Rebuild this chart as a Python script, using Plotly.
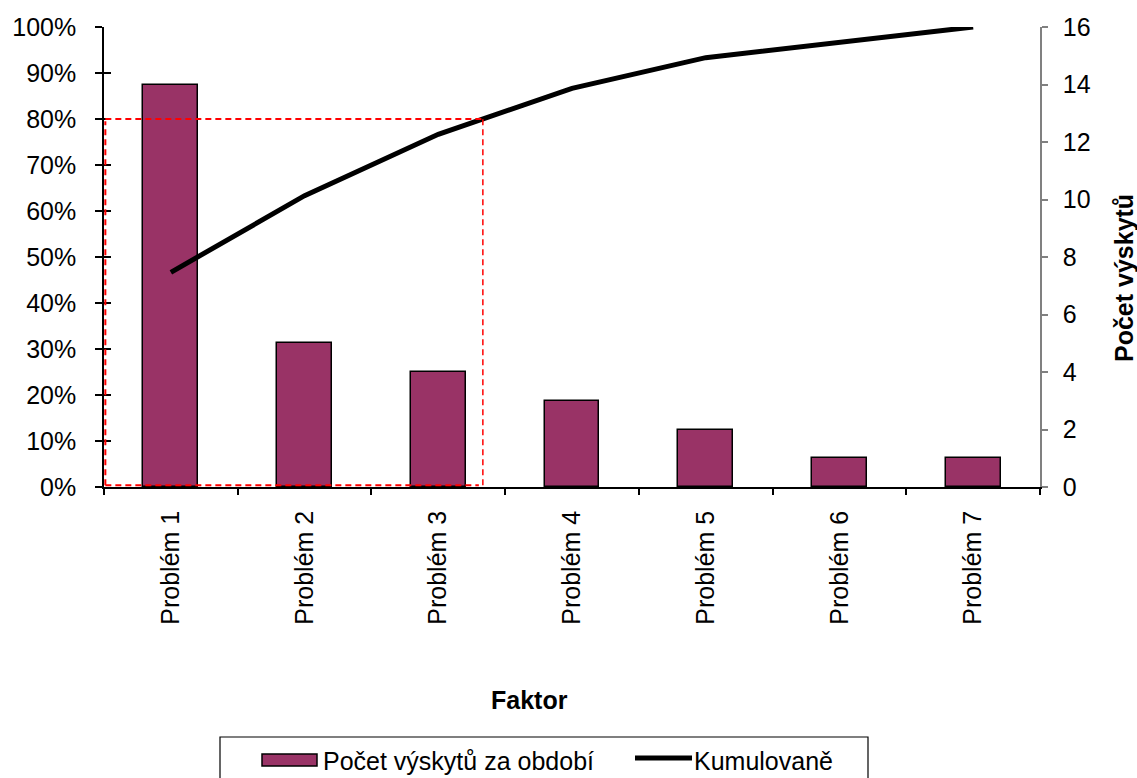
import plotly.graph_objects as go

# Pareto data: occurrences per problem
categories = ["Problém 1", "Problém 2", "Problém 3", "Problém 4", "Problém 5", "Problém 6", "Problém 7"]
counts = [14, 5, 4, 3, 2, 1, 1]
bar_name = "Počet výskytů za období"
line_name = "Kumulovaně"

total = sum(counts)
cumulative = []
running = 0
for c in counts:
    running += c
    cumulative.append(running / total)

positions = list(range(len(categories)))

# x position where the cumulative curve crosses 80 %
threshold = 0.8
x80 = positions[-1]
for i in range(1, len(cumulative)):
    if cumulative[i - 1] < threshold <= cumulative[i]:
        x80 = positions[i - 1] + (threshold - cumulative[i - 1]) / (cumulative[i] - cumulative[i - 1])
        break

FONT = "Liberation Sans, Arial, sans-serif"
PLUM = "#993366"

W, H = 1137, 778
L, R, T, B = 104, 97, 27, 291
PW, PH = W - L - R, H - T - B


def px_x(px):
    return (px - L) / PW


def px_y(py):
    return (H - B - py) / PH


fig = go.Figure()

fig.add_trace(go.Bar(
    x=positions, y=counts, name=bar_name, showlegend=False,
    marker=dict(color=PLUM, line=dict(color="black", width=1.5)),
    width=0.41, xaxis="x", yaxis="y",
))

fig.add_trace(go.Scatter(
    x=positions, y=cumulative, name=line_name, mode="lines", showlegend=False,
    line=dict(color="black", width=5), xaxis="x", yaxis="y2",
))

# helper trace so the inner-tick overlay axes are drawn
fig.add_trace(go.Scatter(x=[None], y=[None], xaxis="x3", yaxis="y3",
                         showlegend=False, hoverinfo="skip"))

half = 0.5
x_range = [-half, len(categories) - half]
boundaries = [p - half for p in positions] + [positions[-1] + half]

dash = "6px,4px"
red = dict(color="#ff0000", width=2, dash=dash)
x_left = x_range[0] + 0.01
shapes = [
    dict(type="line", xref="x", yref="y2", x0=x_left, x1=x80, y0=threshold, y1=threshold, line=red),
    dict(type="line", xref="x", yref="y2", x0=x_left, x1=x_left, y0=0.004, y1=threshold - 0.005, line=red),
    dict(type="line", xref="x", yref="y2", x0=x80, x1=x80, y0=0.004, y1=threshold,
         line=dict(color="#ff0000", width=1.5, dash=dash)),
    dict(type="line", xref="x", yref="y2", x0=x_left, x1=x80 - 0.03, y0=0.004, y1=0.004, line=red),
    # legend frame and keys
    dict(type="rect", xref="paper", yref="paper", x0=px_x(220), x1=px_x(868),
         y0=px_y(737), y1=px_y(781), line=dict(color="black", width=1.2), fillcolor="white",
         layer="below"),
    dict(type="rect", xref="paper", yref="paper", x0=px_x(262), x1=px_x(317),
         y0=px_y(754), y1=px_y(766), line=dict(color="black", width=1.5), fillcolor=PLUM),
    dict(type="line", xref="paper", yref="paper", x0=px_x(635), x1=px_x(692),
         y0=px_y(758), y1=px_y(758), line=dict(color="black", width=5)),
]

tick_font = dict(family=FONT, size=25, color="black")
label_font = dict(family=FONT, size=25, color="black")

fig.update_layout(
    template="none",
    width=W, height=H,
    margin=dict(l=L, r=R, t=T, b=B),
    paper_bgcolor="white", plot_bgcolor="white",
    font=dict(family=FONT, color="black"),
    bargap=0,
    showlegend=False,
    shapes=shapes,
    xaxis=dict(
        range=x_range, tickmode="array", tickvals=positions, ticktext=categories,
        tickangle=-90, tickfont=tick_font, ticks="", ticklabelstandoff=12,
        showgrid=False, zeroline=False,
        showline=True, linecolor="black", linewidth=1.5, automargin=False,
    ),
    xaxis3=dict(
        overlaying="x", range=x_range, tickmode="array", tickvals=boundaries,
        ticks="outside", ticklen=7, tickwidth=1.5, tickcolor="black",
        showticklabels=False, showgrid=False, zeroline=False, showline=False,
        anchor="y3", automargin=False,
    ),
    yaxis=dict(
        side="right", range=[0, 16], dtick=2, tickfont=tick_font,
        ticks="outside", ticklen=6, tickcolor="#808080", tickwidth=1.5,
        ticklabelstandoff=10,
        showline=True, linecolor="#808080", linewidth=1.5,
        showgrid=False, zeroline=False, anchor="x", automargin=False,
    ),
    yaxis2=dict(
        side="left", overlaying="y", range=[0, 1], dtick=0.1, tickformat=".0%",
        tickfont=tick_font, ticks="outside", ticklen=7, tickcolor="black", tickwidth=1.5,
        ticklabelstandoff=14,
        showline=True, linecolor="black", linewidth=1.5,
        showgrid=False, zeroline=False, anchor="x", automargin=False,
    ),
    yaxis3=dict(
        overlaying="y", side="left", range=[0, 1], dtick=0.1,
        ticks="inside", ticklen=7, tickcolor="black", tickwidth=1.5,
        showticklabels=False, showgrid=False, zeroline=False, showline=False,
        anchor="x3", automargin=False,
    ),
    annotations=[
        dict(text="<b>Faktor</b>", xref="paper", yref="paper", x=px_x(529), y=px_y(700),
             xanchor="center", yanchor="middle", showarrow=False, font=label_font),
        dict(text="<b>Počet výskytů</b>", xref="paper", yref="paper", x=px_x(1124), y=px_y(278),
             xanchor="center", yanchor="middle", textangle=-90, showarrow=False, font=label_font),
        dict(text=bar_name, xref="paper", yref="paper", x=px_x(321), y=px_y(761),
             xanchor="left", yanchor="middle", showarrow=False, font=label_font),
        dict(text=line_name, xref="paper", yref="paper", x=px_x(692), y=px_y(761),
             xanchor="left", yanchor="middle", showarrow=False, font=label_font),
    ],
)

fig.write_html("out.html")
